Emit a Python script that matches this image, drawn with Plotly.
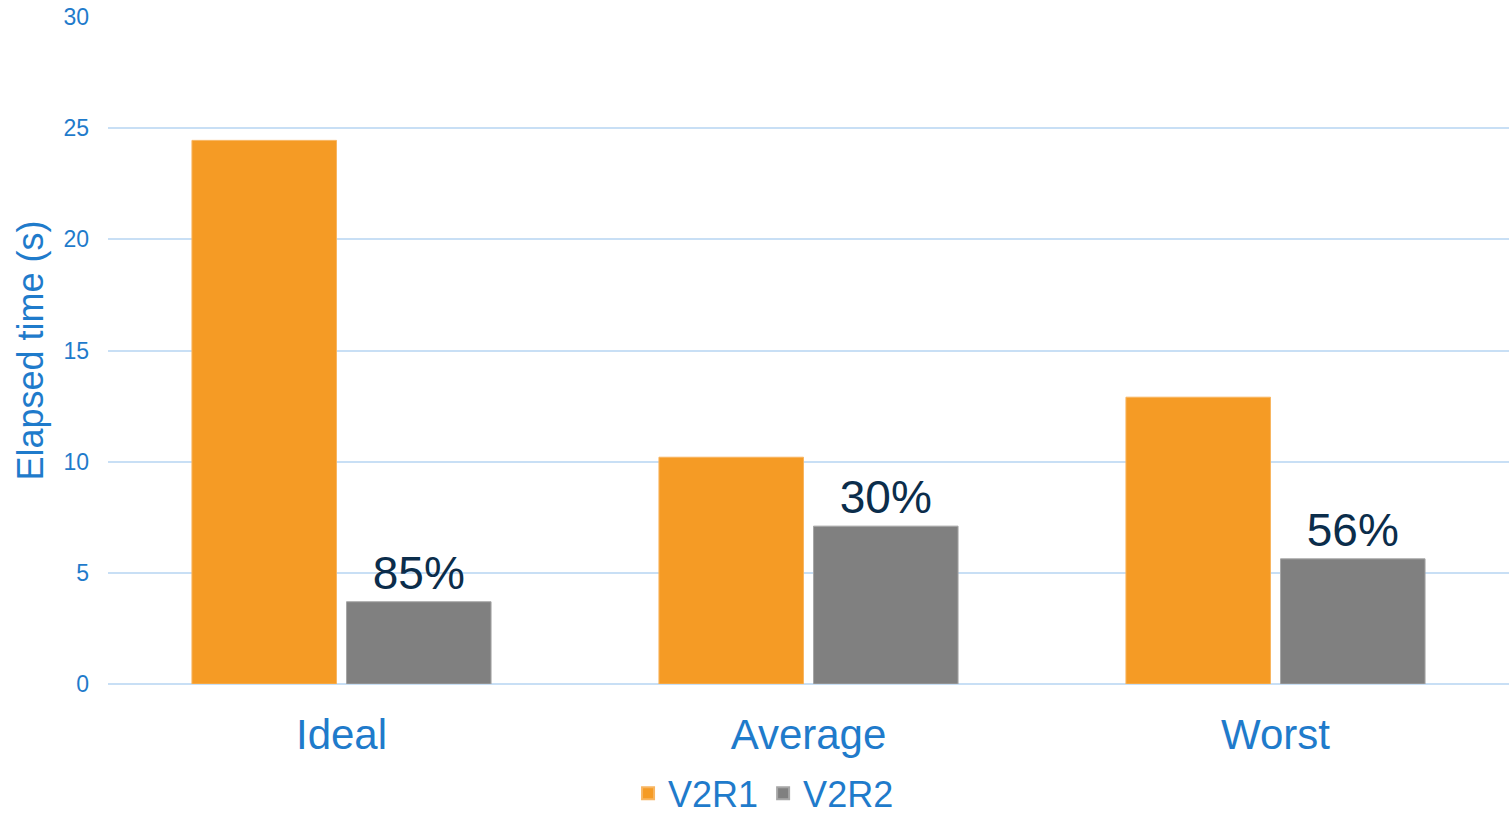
import plotly.graph_objects as go

# Elapsed time per scenario for two releases
scenarios = ["Ideal", "Average", "Worst"]
v2r1_times = [24.45, 10.2, 12.9]
v2r2_times = [3.7, 7.1, 5.63]

# Percentage reduction from V2R1 to V2R2
reduction = [f"{round((a - b) / a * 100)}%" for a, b in zip(v2r1_times, v2r2_times)]

blue = "#1F7BCB"
grid = "#C8DFF5"
font_family = "Liberation Sans, Arial, sans-serif"

fig = go.Figure()
fig.add_trace(go.Bar(
    name="V2R1", x=scenarios, y=v2r1_times,
    marker=dict(color="#F59B25", line=dict(color="#F8B560", width=1)),
    hoverinfo="x+y",
))
fig.add_trace(go.Bar(
    name="V2R2", x=scenarios, y=v2r2_times,
    marker=dict(color="#808080", line=dict(color="#A6A6A6", width=1)),
    text=reduction, textposition="outside",
    textfont=dict(size=46, color="#0B2D4B", family=font_family),
    cliponaxis=False,
))

fig.update_layout(
    width=1509, height=818,
    margin=dict(l=108, r=0, t=17, b=134, autoexpand=False),
    paper_bgcolor="white", plot_bgcolor="white",
    barmode="group", bargap=0.338, bargroupgap=0.065,
    font=dict(family=font_family, color=blue),
    showlegend=True,
    legend=dict(
        orientation="h", xref="container", x=0.506, xanchor="center",
        yref="container", y=0.03, yanchor="middle",
        font=dict(size=36, color=blue), itemsizing="constant",
        traceorder="normal",
    ),
    xaxis=dict(
        showgrid=False, showline=False, ticks="",
        tickfont=dict(size=42, color=blue),
        ticklabelstandoff=22,
    ),
    yaxis=dict(
        range=[0, 30], dtick=5, showgrid=True, gridcolor=grid, gridwidth=1.5,
        zeroline=True, zerolinecolor=grid, zerolinewidth=1.5,
        showline=False, ticks="",
        tickfont=dict(size=23, color=blue),
        ticklabelstandoff=18,
        title=dict(text="Elapsed time (s)", font=dict(size=36, color=blue), standoff=8),
    ),
)

fig.write_html("out.html")
